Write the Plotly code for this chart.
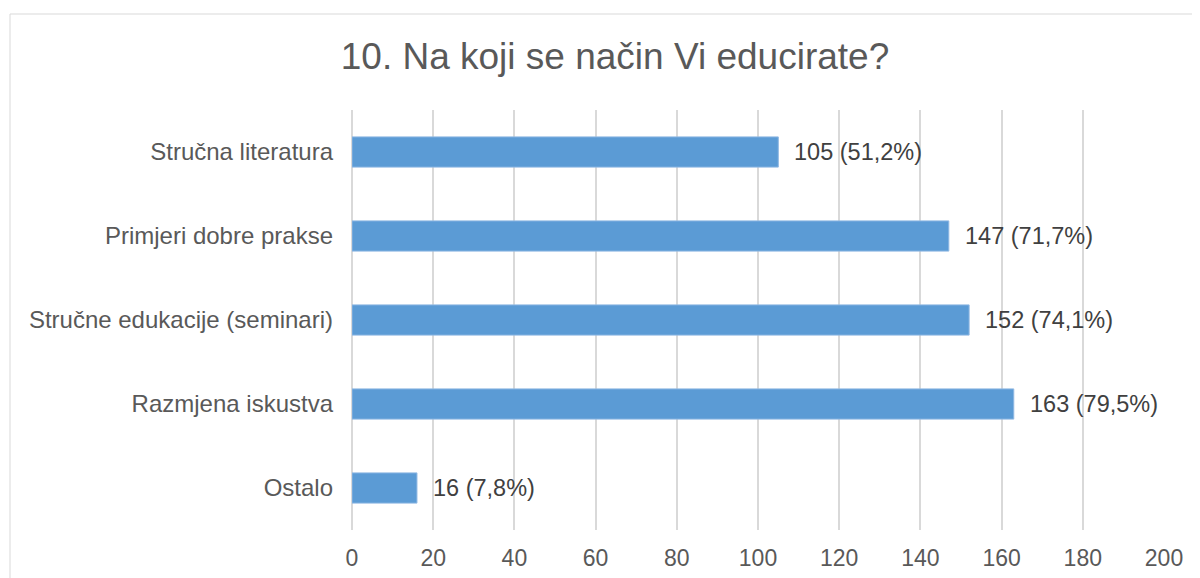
import plotly.graph_objects as go

categories = ["Stručna literatura", "Primjeri dobre prakse", "Stručne edukacije (seminari)",
              "Razmjena iskustva", "Ostalo"]
counts = [105, 147, 152, 163, 16]
percents = ["51,2%", "71,7%", "74,1%", "79,5%", "7,8%"]
x_ticks = [0, 20, 40, 60, 80, 100, 120, 140, 160, 180, 200]

grey = "#595959"
font = "Liberation Sans, Arial, sans-serif"

fig = go.Figure()
fig.add_trace(go.Bar(
    y=categories,
    x=counts,
    orientation="h",
    width=0.36,
    marker=dict(color="#5B9BD5", line=dict(color="#8FB8E3", width=1)),
    hoverinfo="x+y",
))

# value labels to the right of each bar
for cat, n, p in zip(categories, counts, percents):
    fig.add_annotation(x=n, y=cat, text=f"{n} ({p})", showarrow=False,
                       xanchor="left", xshift=14,
                       font=dict(size=23.5, color="#404040", family=font))

# page body adds an 8px margin, so the figure is laid out 8px up/left
W, H = 1200, 578
L, R, T, B = 344, 44, 102, 56
pw, ph = W - L - R, H - T - B

# outer chart border (right/bottom edges fall outside the picture)
fig.add_shape(type="rect", xref="paper", yref="paper",
              x0=(2 - L) / pw, x1=(1260 - L) / pw,
              y0=-200 / ph, y1=(H - B - 6) / ph,
              line=dict(color="#D9D9D9", width=1), layer="below")

fig.update_layout(
    width=W, height=H,
    margin=dict(l=L, r=R, t=T, b=B),
    paper_bgcolor="white", plot_bgcolor="white",
    showlegend=False,
    title=dict(text="10. Na koji se način Vi educirate?", x=607 / W, xanchor="center",
               y=1 - 48 / H, yanchor="middle",
               font=dict(size=37, color=grey, family=font)),
    font=dict(family=font, color=grey),
)
fig.update_xaxes(range=[0, 200], tickvals=x_ticks, showgrid=True, gridcolor="#D9D9D9",
                 gridwidth=1.5, zeroline=True, zerolinecolor="#D9D9D9", zerolinewidth=1.5,
                 showline=False, ticks="", ticklabelstandoff=12,
                 tickfont=dict(size=23, color=grey, family=font))
fig.update_yaxes(autorange="reversed", showgrid=False, showline=False, ticks="",
                 ticklabelstandoff=18, tickfont=dict(size=24, color=grey, family=font))

fig.write_html("out.html")
